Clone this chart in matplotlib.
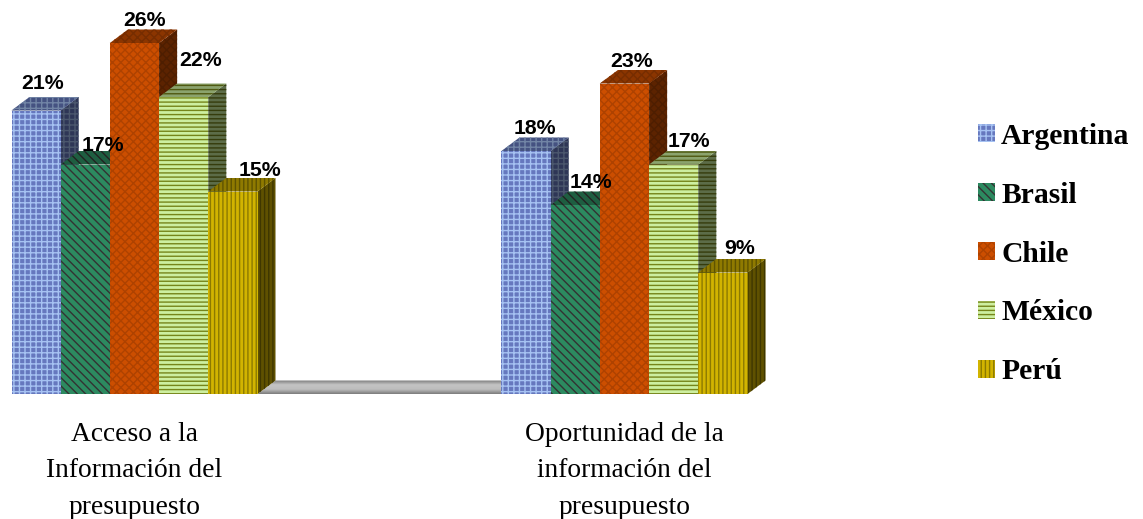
import numpy as np
import matplotlib
matplotlib.use("Agg")
import matplotlib.pyplot as plt
from matplotlib.patches import Polygon, Patch
from matplotlib.colors import to_rgb, LinearSegmentedColormap

categories = ["Acceso a la\nInformación del\npresupuesto",
              "Oportunidad de la\ninformación del\npresupuesto"]
countries = ["Argentina", "Brasil", "Chile", "México", "Perú"]
argentina = [21, 18]
brasil = [17, 14]
chile = [26, 23]
mexico = [22, 17]
peru = [15, 9]
series = [argentina, brasil, chile, mexico, peru]

base_colors = ["#6678BE", "#2C8A60", "#CC4E00", "#CDEFA0", "#D2B400"]
hatch_colors = ["#A6C2F2", "#333333", "#AE4200", "#76851A", "#8C7A00"]
hatches = ["+++", "\\\\\\\\", "xxxx", "----", "||||"]

W, H = 1143, 519
PX_X = 490.0           # pixels per category step
PX_Y = 13.5            # pixels per percentage point
BASE_PX = 394
AX_W = 960
BAR_W = 49.2 / PX_X
DX = 18 / PX_X
DY = 13.5 / PX_Y

plt.rcParams["hatch.linewidth"] = 1.0
fig = plt.figure(figsize=(W / 100, H / 100), dpi=100, facecolor="white")
ax = fig.add_axes([0, 1 - BASE_PX / H, AX_W / W, BASE_PX / H])
ax.set_xlim(-134.5 / PX_X, (AX_W - 134.5) / PX_X)
ax.set_ylim(0, BASE_PX / PX_Y)
for s in ax.spines.values():
    s.set_visible(False)
ax.set_yticks([])
ax.patch.set_visible(False)


def shade(c, f):
    return tuple(v * f for v in to_rgb(c))


# grey floor band seen between the two groups
x_left = 0 + 2.5 * BAR_W
x_right = 1 - 2.5 * BAR_W
cmap = LinearSegmentedColormap.from_list("floor", ["#7d7d7d", "#c4c4c4", "#bdbdbd", "#7d7d7d"])
im = ax.imshow(np.linspace(0, 1, 32).reshape(-1, 1), cmap=cmap, aspect="auto",
               extent=(x_left, x_right, 0, DY), origin="upper", zorder=1)
clip = Polygon([(x_left, 0), (x_left + DX, DY), (x_right, DY), (x_right, 0)],
               transform=ax.transData, fc="none", ec="none")
ax.add_patch(clip)
im.set_clip_path(clip)
ax.set_xlim(-134.5 / PX_X, (AX_W - 134.5) / PX_X)
ax.set_ylim(0, BASE_PX / PX_Y)

z = 2
for j, (name, vals) in enumerate(zip(countries, series)):
    base, hc, ha = base_colors[j], hatch_colors[j], hatches[j]
    for i, v in enumerate(vals):
        x0 = i + (j - 2.5) * BAR_W
        x1 = x0 + BAR_W
        side = Polygon([(x1, 0), (x1 + DX, DY), (x1 + DX, v + DY), (x1, v)],
                       fc=shade(base, 0.45), ec=shade(hc, 0.45), hatch=ha, lw=0, zorder=z)
        top = Polygon([(x0, v), (x0 + DX, v + DY), (x1 + DX, v + DY), (x1, v)],
                      fc=shade(base, 0.68), ec=shade(hc, 0.68), hatch=ha, lw=0, zorder=z)
        ax.add_patch(side)
        ax.add_patch(top)
        ax.bar(x0, v, width=BAR_W, align="edge", color=base, edgecolor=hc,
               hatch=ha, linewidth=0, zorder=z + 0.5)
        z += 1

# value labels, offset in pixels from the bar's front top-centre (series, category)
label_offsets = {(0, 0): (6.5, 27), (1, 0): (17.5, 19), (2, 0): (9.5, 22),
                 (3, 0): (17, 37), (4, 0): (27.5, 21),
                 (0, 1): (8.5, 22), (1, 1): (15.5, 23), (2, 1): (7.5, 22),
                 (3, 1): (15.5, 23), (4, 1): (16.5, 24)}
for j, vals in enumerate(series):
    for i, v in enumerate(vals):
        x = i + (j - 2) * BAR_W
        ox, oy = label_offsets[(j, i)]
        ax.annotate(f"{v}%", (x, v), xytext=(ox * 0.72, oy * 0.72),
                    textcoords="offset points", ha="center", va="center",
                    fontfamily="Liberation Sans", fontweight="bold", fontsize=15.3,
                    color="black", zorder=100, annotation_clip=False)

ax.set_xticks([0, 1])
ax.set_xticklabels(categories, fontfamily="Liberation Serif", fontsize=19.8,
                   linespacing=1.6, color="black")
ax.tick_params(axis="x", length=0, pad=20)

handles = [Patch(fc=base_colors[j], ec=hatch_colors[j], hatch=hatches[j], lw=0, label=countries[j])
           for j in range(5)]
fig.legend(handles=handles, loc="center left", bbox_to_anchor=(978 / W, 1 - 254 / H),
           frameon=False, borderpad=0, borderaxespad=0, handlelength=0.58, handleheight=0.58,
           handletextpad=0.2, labelspacing=1.08,
           prop={"family": "Liberation Serif", "weight": "bold", "size": 21.3})

fig.savefig("out.png", dpi=100, facecolor="white")
